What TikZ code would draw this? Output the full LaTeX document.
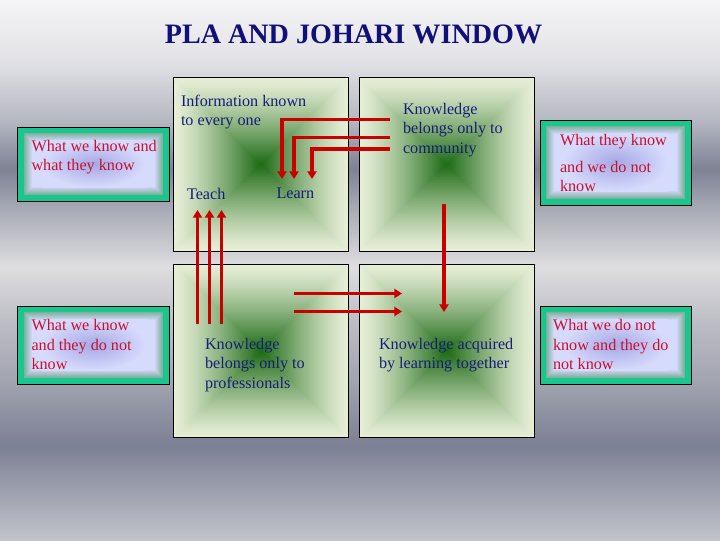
\documentclass[tikz,border=0pt]{standalone}
\usepackage{fontspec}
\setmainfont{Liberation Serif}
\usetikzlibrary{arrows.meta}

\definecolor{inkblue}{RGB}{22,30,120}
\definecolor{inkred}{RGB}{200,16,48}
\definecolor{titleblue}{RGB}{16,16,120}
\definecolor{flowred}{RGB}{200,0,0}
\definecolor{paneteal}{RGB}{24,198,142}
\definecolor{ringA}{RGB}{126,176,158}
\definecolor{lav}{RGB}{214,218,252}
\definecolor{blob}{RGB}{166,168,228}
\definecolor{gdeep}{RGB}{28,106,20}
\definecolor{gpale}{RGB}{230,238,214}
\definecolor{bgA}{RGB}{245,245,247}
\definecolor{bgB}{RGB}{226,226,230}
\definecolor{bgC}{RGB}{182,184,194}
\definecolor{bgD}{RGB}{126,130,148}
\definecolor{bgE}{RGB}{164,166,178}
\definecolor{bgF}{RGB}{222,222,224}
\definecolor{bgG}{RGB}{190,190,198}
\definecolor{bgH}{RGB}{162,164,176}
\definecolor{bgI}{RGB}{124,128,148}
\definecolor{bgJ}{RGB}{194,196,202}

\pgfdeclareverticalshading{pagebg}{100bp}{color(0bp)=(bgJ); color(25bp)=(bgJ); color(33.8bp)=(bgI); color(39.8bp)=(bgH); color(45.4bp)=(bgG); color(50.3bp)=(bgF); color(56bp)=(bgE); color(59.4bp)=(bgD); color(63.9bp)=(bgC); color(69.4bp)=(bgB); color(75bp)=(bgA); color(100bp)=(bgA)}
\pgfdeclareradialshading{glow}{\pgfpointorigin}{color(0bp)=(blob); color(25bp)=(lav); color(50bp)=(lav)}

\begin{document}
\begin{tikzpicture}[x=0.025cm,y=-0.025cm,inner sep=0pt,outer sep=0pt,
quad/.style={draw=black,line width=0.7pt,minimum width=4.35cm,minimum height=4.33cm,
  path picture={
    \foreach \k in {0,...,43} {
      \pgfmathsetmacro\p{100*(\k/43)^1.25}
      \fill[gdeep!\p!gpale] ([shift={(2*\k,2*\k)}]path picture bounding box.north west) rectangle ([shift={(-2*\k,-2*\k)}]path picture bounding box.south east);
    }
  }},
pane/.style={draw=black,line width=0.7pt,fill=paneteal,minimum width=3.775cm,
  path picture={
    \foreach \d in {6,...,14} {
      \pgfmathsetmacro\q{(\d-6)*12.5}
      \fill[lav!\q!ringA] ([shift={(\d,\d)}]path picture bounding box.north west) rectangle ([shift={(-\d,-\d)}]path picture bounding box.south east);
    }
    \shade[shading=glow] ([shift={(24,14)}]path picture bounding box.north west) rectangle ([shift={(-24,-14)}]path picture bounding box.south east);
  }},
note/.style={anchor=north west,align=left,text=inkblue,font=\fontsize{11.5}{13.7}\selectfont},
remark/.style={note,text=inkred},
flow/.style={draw=flowred,line width=2.8pt,-{Triangle[length=5.5pt,width=6.5pt]}}]

\useasboundingbox (0,0) rectangle (720,540);
\shade[shading=pagebg] (0,0) rectangle (720,540);

\draw (353.5,43.3) node[anchor=base,text=titleblue,font=\fontsize{20}{24}\selectfont\bfseries] (title) {PLA AND JOHARI WINDOW};

\draw (261,164.5) node[quad] (public) {};
\draw (447,164.5) node[quad] (community) {};
\draw (261,351) node[quad] (profession) {};
\draw (447,351) node[quad] (together) {};

\draw (93.5,164) node[pane,minimum height=1.85cm] (open) {};
\draw (615.5,162.5) node[pane,minimum height=2.125cm] (blind) {};
\draw (93.5,345) node[pane,minimum height=1.95cm] (hidden) {};
\draw (615.5,345) node[pane,minimum height=1.95cm] (unknown) {};

\draw (181,94.7) node[note] (publictext) {Information known\\to every one};
\draw (403,103.3) node[note] (communitytext) {Knowledge\\belongs only to\\community};
\draw (187,188) node[note] (teach) {Teach};
\draw (276.5,188) node[note] (learn) {Learn};
\draw (205,338.3) node[note] (professiontext) {Knowledge\\belongs only to\\professionals};
\draw (379,338.3) node[note] (togethertext) {Knowledge acquired\\by learning together};

\draw (31.5,140) node[remark] (opentext) {What we know and\\what they know};
\draw (560,134) node[remark] (blindtext) {What they know\\[5.5pt]and we do not\\know};
\draw (31.5,319.7) node[remark] (hiddentext) {What we know\\and they do not\\know};
\draw (553,319.7) node[remark] (unknowntext) {What we do not\\know and they do\\not know};

\coordinate (c1) at (390,119.5);
\coordinate (c2) at (390,137.5);
\coordinate (c3) at (390,149);
\coordinate (l1) at (282,179);
\coordinate (l2) at (294,179);
\coordinate (l3) at (312,179);
\coordinate (p1) at (197.5,324);
\coordinate (p2) at (209.5,324);
\coordinate (p3) at (221.5,324);
\coordinate (t1) at (197.5,210);
\coordinate (t2) at (209.5,210);
\coordinate (t3) at (221.5,210);
\coordinate (p4) at (294,293.5);
\coordinate (p5) at (294,311.5);
\coordinate (g4) at (402,293.5);
\coordinate (g5) at (402,311.5);
\coordinate (c4) at (444,204);
\coordinate (g6) at (444,312);

\draw[flow] (c1) -| (l1);
\draw[flow] (c2) -| (l2);
\draw[flow] (c3) -| (l3);
\draw[flow] (p1) -- (t1);
\draw[flow] (p2) -- (t2);
\draw[flow] (p3) -- (t3);
\draw[flow] (p4) -- (g4);
\draw[flow] (p5) -- (g5);
\draw[flow] (c4) -- (g6);
\end{tikzpicture}
\end{document}
